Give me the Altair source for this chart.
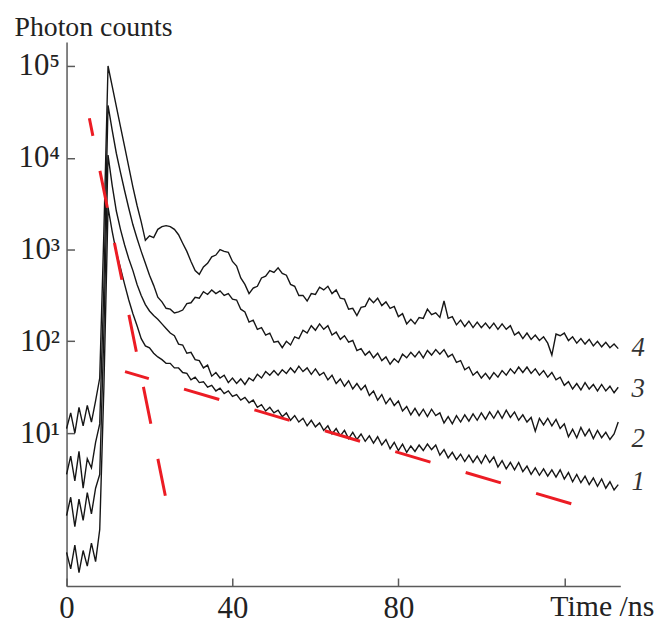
import altair as alt
import pandas as pd

# sample times (ns), one sample per ns
TIME = list(range(134))

# photon counts, curves 1..4 (bottom to top)
C1 = [0.501, 0.331, 0.603, 0.302, 0.525, 0.355, 0.631, 0.398, 0.891, 31.6,
      2880, 1580, 933, 631, 417, 282, 200, 148, 107, 89.1,
      85.1, 74.1, 67.6, 63.1, 57.5, 57.5, 51.3, 51.3, 45.7, 44.7,
      38.0, 40.7, 35.5, 36.3, 31.6, 33.1, 28.8, 30.9, 26.9, 28.8,
      25.1, 26.3, 22.9, 24.5, 21.4, 22.9, 19.1, 20.4, 17.4, 19.1,
      16.6, 17.8, 15.1, 16.6, 13.8, 15.5, 13.2, 14.5, 12.0, 13.8,
      11.7, 12.9, 10.7, 12.0, 9.77, 11.2, 9.33, 10.7, 8.71, 10.2,
      8.51, 9.77, 8.13, 9.33, 7.76, 9.12, 7.41, 8.51, 6.76, 7.94,
      6.46, 7.59, 6.17, 7.24, 6.31, 7.41, 6.46, 7.59, 6.61, 7.41,
      5.75, 6.61, 5.37, 6.17, 5.13, 5.89, 4.90, 5.75, 4.79, 5.62,
      4.68, 5.75, 4.79, 5.50, 4.27, 5.01, 4.07, 4.79, 3.98, 4.79,
      3.80, 4.37, 3.55, 4.17, 3.47, 4.07, 3.39, 3.98, 3.31, 3.98,
      3.16, 3.72, 2.95, 3.55, 2.88, 3.39, 2.75, 3.24, 2.63, 3.16,
      2.51, 2.95, 2.40, 2.75]

C2 = [1.26, 2.00, 0.955, 1.91, 1.12, 2.24, 1.32, 2.51, 3.55, 126,
      10700, 5010, 2630, 1660, 1120, 794, 589, 417, 316, 251,
      214, 191, 174, 155, 138, 123, 115, 93.3, 91.2, 74.1,
      75.9, 63.1, 61.7, 51.3, 55.0, 41.7, 45.7, 39.8, 42.7, 35.5,
      39.8, 34.7, 38.9, 33.9, 39.8, 37.2, 43.7, 39.8, 46.8, 42.7,
      47.9, 42.7, 49.0, 44.7, 51.3, 45.7, 53.7, 46.8, 51.3, 43.7,
      50.1, 42.7, 45.7, 38.0, 42.7, 34.7, 38.9, 32.4, 37.2, 30.2,
      34.7, 29.5, 33.1, 25.7, 28.8, 22.9, 26.3, 20.9, 24.0, 20.0,
      22.4, 17.4, 19.5, 15.8, 18.6, 15.5, 18.2, 15.1, 18.2, 15.5,
      16.6, 12.9, 15.1, 12.6, 15.5, 13.2, 15.8, 13.5, 16.2, 13.8,
      16.6, 14.1, 17.0, 14.5, 17.4, 14.5, 17.8, 14.8, 17.0, 13.8,
      15.8, 13.2, 14.8, 10.5, 14.5, 12.3, 14.5, 12.0, 14.1, 11.2,
      12.6, 9.12, 11.0, 8.91, 11.5, 9.33, 11.0, 8.71, 10.7, 8.91,
      10.2, 8.51, 9.77, 13.2]

C3 = [3.55, 5.62, 3.02, 6.31, 2.51, 5.25, 4.17, 7.94, 12.6, 398,
      37200, 20000, 11200, 6920, 4370, 2820, 1860, 1320, 955, 708,
      525, 407, 302, 269, 229, 224, 204, 209, 219, 257,
      263, 302, 295, 347, 324, 363, 331, 355, 316, 331,
      288, 282, 224, 209, 162, 170, 135, 141, 117, 123,
      97.7, 100, 85.1, 100, 91.2, 112, 107, 132, 123, 148,
      132, 155, 135, 148, 117, 126, 105, 115, 97.7, 102,
      79.4, 83.2, 70.8, 77.6, 66.1, 74.1, 61.7, 67.6, 56.2, 64.6,
      58.9, 72.4, 66.1, 75.9, 67.6, 77.6, 66.1, 79.4, 70.8, 81.3,
      72.4, 81.3, 67.6, 72.4, 58.9, 61.7, 49.0, 52.5, 42.7, 46.8,
      39.8, 44.7, 38.9, 45.7, 40.7, 47.9, 42.7, 50.1, 44.7, 52.5,
      45.7, 52.5, 44.7, 50.1, 42.7, 47.9, 40.7, 45.7, 38.0, 40.7,
      33.1, 36.3, 30.2, 34.7, 29.5, 35.5, 30.2, 33.9, 28.8, 33.9,
      28.8, 32.4, 27.5, 31.6]

C4 = [11.2, 16.6, 10.0, 19.1, 12.0, 20.0, 13.2, 22.4, 39.8, 1580,
      100000, 60300, 36300, 21900, 13200, 7940, 4790, 3020, 2000, 1260,
      1410, 1350, 1660, 1780, 1820, 1780, 1660, 1450, 1170, 955,
      741, 589, 537, 646, 708, 832, 871, 1000, 955, 933,
      741, 661, 490, 417, 331, 380, 398, 490, 513, 589,
      562, 631, 550, 525, 417, 398, 316, 316, 275, 331,
      324, 389, 363, 398, 331, 363, 295, 288, 224, 229,
      191, 234, 240, 295, 263, 295, 245, 269, 229, 240,
      186, 200, 155, 174, 155, 182, 178, 224, 195, 204,
      182, 275, 178, 186, 151, 170, 145, 166, 141, 162,
      141, 158, 138, 158, 135, 155, 135, 148, 117, 126,
      107, 123, 105, 117, 102, 112, 95.5, 70.8, 120, 115,
      123, 102, 112, 95.5, 107, 93.3, 105, 89.1, 100, 87.1,
      97.7, 85.1, 93.3, 83.2]

# red dashed exponential fits (start/end points)
FIT_FAST_T = [5.5, 23.9]
FIT_FAST_Y = [26900, 1.98]
FIT_SLOW_T = [14.1, 122.2]
FIT_SLOW_Y = [46.8, 1.67]

# curve number labels
LABEL_TEXT = ["4", "3", "2", "1"]
LABEL_T = [137.8, 137.8, 137.8, 137.8]
LABEL_Y = [85, 29.9, 8.6, 2.95]

Y_TICKS = [10, 100, 1000, 10000, 100000]
X_TICKS = [0, 40, 80, 120]

rows = []
for name, vals in (("1", C1), ("2", C2), ("3", C3), ("4", C4)):
    for t, v in zip(TIME, vals):
        rows.append({"t": t, "counts": v, "curve": name})
curves = pd.DataFrame(rows)

fast = pd.DataFrame({"t": FIT_FAST_T, "counts": FIT_FAST_Y})
slow = pd.DataFrame({"t": FIT_SLOW_T, "counts": FIT_SLOW_Y})
labels = pd.DataFrame({"t": LABEL_T, "counts": LABEL_Y, "label": LABEL_TEXT})

FONT = "Liberation Serif"

xscale = alt.Scale(domain=[0, 133.5], nice=False, zero=False)
yscale = alt.Scale(type="log", domain=[0.216, 182000], nice=False)

xaxis = alt.Axis(
    values=X_TICKS,
    labelExpr="datum.value == 120 ? '' : datum.label",
    tickSize={"expr": "-8"},
    labelPadding=16,
    labelFlush=False,
    grid=False,
    title="Time /ns",
    titleX=487,
    titleY=30,
    titleAlign="left",
    titleBaseline="alphabetic",
    titleFontSize=30,
)
yaxis = alt.Axis(
    values=Y_TICKS,
    labelExpr="datum.value == 10 ? '10¹' : datum.value == 100 ? '10²' : datum.value == 1000 ? '10³' : datum.value == 10000 ? '10⁴' : '10⁵'",
    tickSize={"expr": "-8"},
    labelPadding=15,
    grid=False,
    title="Photon counts",
    titleAngle=0,
    titleX=-53,
    titleY=-7,
    titleAlign="left",
    titleBaseline="alphabetic",
    titleFontSize=28,
)

x = alt.X("t:Q", scale=xscale, axis=xaxis)
y = alt.Y("counts:Q", scale=yscale, axis=yaxis)

lines = alt.Chart(curves).mark_line(color="#161616", strokeWidth=1.4).encode(
    x=x, y=y, detail="curve:N", order="t:Q"
)
fit1 = alt.Chart(fast).mark_line(
    color="#ec1c24", strokeWidth=3, strokeDash=[38, 36], strokeDashOffset=20
).encode(x="t:Q", y="counts:Q")
fit2 = alt.Chart(slow).mark_line(
    color="#ec1c24", strokeWidth=3, strokeDash=[37, 37], strokeDashOffset=12
).encode(x="t:Q", y="counts:Q")
text = alt.Chart(labels).mark_text(
    font=FONT, fontStyle="italic", fontSize=27, color="#333333",
    align="center", baseline="middle"
).encode(x="t:Q", y="counts:Q", text="label:N")

chart = alt.layer(lines, fit1, fit2, text).properties(
    width=558,
    height=548,
    autosize=alt.AutoSizeParams(type="none"),
    padding={"left": 59, "top": 32, "right": 40, "bottom": 41},
).configure_view(stroke=None).configure_axis(
    labelFont=FONT,
    labelFontSize=31,
    labelColor="#222222",
    titleFont=FONT,
    titleFontWeight="normal",
    titleColor="#222222",
    domainColor="#5a5a5a",
    domainWidth=1.5,
    tickColor="#5a5a5a",
    tickWidth=1.5,
)

chart.save("out.html", embed_options={"renderer": "svg", "actions": False})
